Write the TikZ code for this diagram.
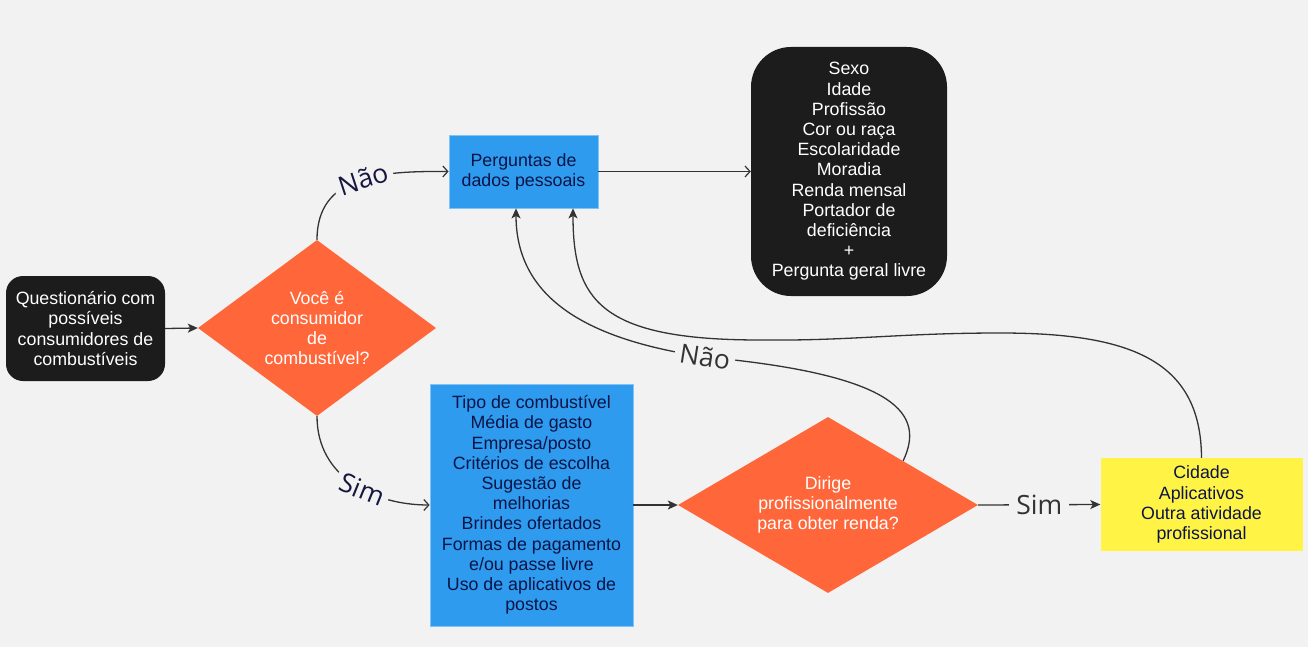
\documentclass[tikz,border=0pt]{standalone}
\usepackage{fontspec}
\setmainfont{Liberation Sans}
\newfontfamily\labelfont{Open Sans}
\usetikzlibrary{shapes.geometric,arrows.meta}
\definecolor{bg}{HTML}{F2F2F2}
\definecolor{darkfill}{HTML}{1C1C1C}
\definecolor{orangefill}{HTML}{FF673B}
\definecolor{bluefill}{HTML}{2E9BEF}
\definecolor{yellowfill}{HTML}{FFF345}
\definecolor{navytext}{HTML}{0B1446}
\definecolor{linecol}{HTML}{333333}
\definecolor{labnavy}{HTML}{16163F}
\begin{document}
\begin{tikzpicture}[x=1pt,y=-1pt,
  txt/.style={font=\fontsize{17.8}{20.2}\selectfont, align=center, inner sep=0pt},
  blackbox/.style={txt, fill=darkfill, text=white},
  bluebox/.style={txt, fill=bluefill, text=navytext, draw=bluefill!60!white, line width=0.8pt},
  yellowbox/.style={txt, fill=yellowfill, text=navytext},
  decision/.style={txt, shape=diamond, fill=orangefill, text=white},
  conn/.style={draw=linecol, line width=1.3pt},
  filledtip/.style={-{Stealth[length=10pt,width=9pt,inset=2.5pt]}},
  opentip/.style={-{Straight Barb[length=5pt,width=11pt,line width=1.2pt]}},
  lab/.style={font=\labelfont\fontsize{26.5}{30}\selectfont, fill=bg, inner sep=5pt}
]
\fill[bg] (0,0) rectangle (1308,647);
\useasboundingbox (0,0) rectangle (1308,647);

% nodes
\node[blackbox, rounded corners=17pt, minimum width=159pt, minimum height=105pt] (start) at (85.5,328.5)
  {Questionário com\\possíveis\\consumidores de\\combustíveis};
\node[decision, shape aspect=1.35, minimum width=238pt, minimum height=176pt] (d1) at (317,328)
  {Você é\\consumidor\\de\\combustível?};
\node[bluebox, minimum width=149pt, minimum height=73pt] (box1) at (523.5,171.5)
  {Perguntas de\\dados pessoais};
\node[blackbox, rounded corners=40pt, minimum width=196pt, minimum height=249pt] (pessoais) at (849,171.5)
  {Sexo\\Idade\\Profissão\\Cor ou raça\\Escolaridade\\Moradia\\Renda mensal\\Portador de\\deficiência\\+\\Pergunta geral livre};
\node[bluebox, minimum width=203pt, minimum height=242pt] (box2) at (531.5,505)
  {Tipo de combustível\\Média de gasto\\Empresa/posto\\Critérios de escolha\\Sugestão de\\melhorias\\Brindes ofertados\\Formas de pagamento\\e/ou passe livre\\Uso de aplicativos de\\postos};
\node[decision, shape aspect=1.7, minimum width=300pt, minimum height=176pt] (d2) at (828,505)
  {Dirige\\profissionalmente\\para obter renda?};
\node[yellowbox, minimum width=202pt, minimum height=93pt] (yellow) at (1201.5,504.5)
  {Cidade\\Aplicativos\\Outra atividade\\profissional};

% connectors
\draw[conn, filledtip] (start.east) -- (d1.west);
\draw[conn, opentip] (box1.east) -- (pessoais.west |- box1.east);
\draw[conn, filledtip] (box2.east) -- (d2.west);

\draw[conn, opentip] (d1.north) .. controls (317,175) and (380,171) .. (box1.west)
  node[lab, pos=0.54, rotate=18, text=labnavy] (nao1) {Não};
\draw[conn, opentip] (d1.south) .. controls (317,478) and (375,505) .. (box2.west)
  node[lab, pos=0.57, rotate=-22, text=labnavy] (sim1) {Sim};
\draw[conn, filledtip] (d2.east) -- (yellow.west)
  node[lab, midway, text=linecol, inner xsep=7pt] (sim2) {Sim};

\draw[conn, filledtip] (d2.north east) .. controls (925,415) and (900,375) .. (705,357)
  node[lab, rotate=-9, text=linecol] (nao2) {Não}
  .. controls (590,340) and (516,300) .. ([xshift=-7.5pt]box1.south);
\draw[conn, filledtip] (yellow.north) .. controls (1201,360) and (1130,333) .. (1000,333)
  .. controls (900,333) and (850,341) .. (760,340)
  .. controls (600,340) and (573,300) .. ([xshift=49.5pt]box1.south);
\end{tikzpicture}
\end{document}
